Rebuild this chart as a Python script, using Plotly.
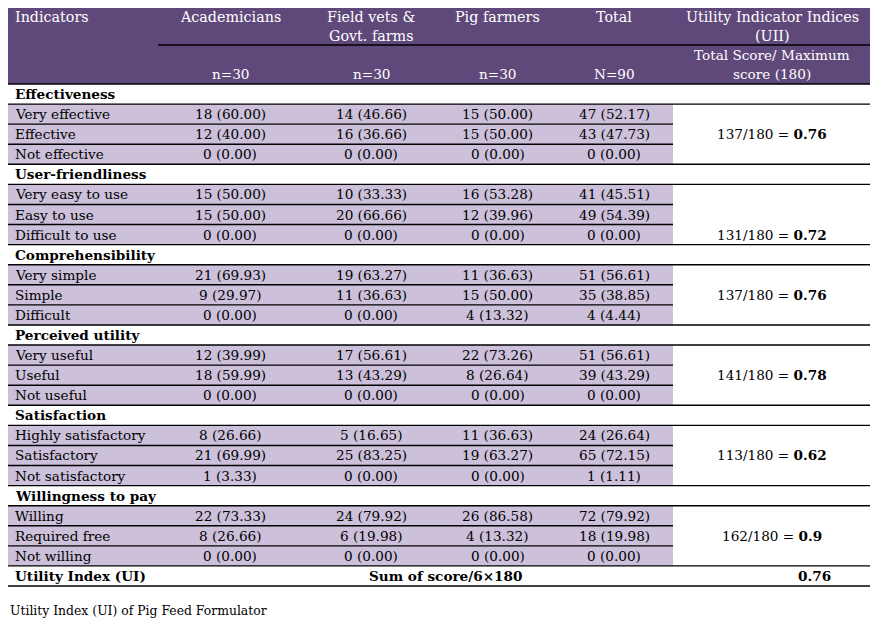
import plotly.graph_objects as go

# Table content
groups = ["Effectiveness", "User-friendliness", "Comprehensibility",
          "Perceived utility", "Satisfaction", "Willingness to pay"]
options = [
    ["Very effective", "Effective", "Not effective"],
    ["Very easy to use", "Easy to use", "Difficult to use"],
    ["Very simple", "Simple", "Difficult"],
    ["Very useful", "Useful", "Not useful"],
    ["Highly satisfactory", "Satisfactory", "Not satisfactory"],
    ["Willing", "Required free", "Not willing"],
]
academicians_n = [18, 12, 0, 15, 15, 0, 21, 9, 0, 12, 18, 0, 8, 21, 1, 22, 8, 0]
academicians_pct = [60.00, 40.00, 0.00, 50.00, 50.00, 0.00, 69.93, 29.97, 0.00,
                    39.99, 59.99, 0.00, 26.66, 69.99, 3.33, 73.33, 26.66, 0.00]
fieldvets_n = [14, 16, 0, 10, 20, 0, 19, 11, 0, 17, 13, 0, 5, 25, 0, 24, 6, 0]
fieldvets_pct = [46.66, 36.66, 0.00, 33.33, 66.66, 0.00, 63.27, 36.63, 0.00,
                 56.61, 43.29, 0.00, 16.65, 83.25, 0.00, 79.92, 19.98, 0.00]
farmers_n = [15, 15, 0, 16, 12, 0, 11, 15, 4, 22, 8, 0, 11, 19, 0, 26, 4, 0]
farmers_pct = [50.00, 50.00, 0.00, 53.28, 39.96, 0.00, 36.63, 50.00, 13.32,
               73.26, 26.64, 0.00, 36.63, 63.27, 0.00, 86.58, 13.32, 0.00]
total_n = [47, 43, 0, 41, 49, 0, 51, 35, 4, 51, 39, 0, 24, 65, 1, 72, 18, 0]
total_pct = [52.17, 47.73, 0.00, 45.51, 54.39, 0.00, 56.61, 38.85, 4.44,
             56.61, 43.29, 0.00, 26.64, 72.15, 1.11, 79.92, 19.98, 0.00]
uii_score = [137, 131, 137, 141, 113, 162]
uii_index = ["0.76", "0.72", "0.76", "0.78", "0.62", "0.9"]
max_score = 180

header_cols = [["Academicians"], ["Field vets &", "Govt. farms"], ["Pig farmers"],
               ["Total"], ["Utility Indicator Indices", "(UII)"]]
header_n = ["n=30", "n=30", "n=30", "N=90", ["Total Score/ Maximum", "score (180)"]]
ui_label = "Utility Index (UI)"
ui_formula = "Sum of score/6×180"
ui_value = "0.76"
caption = "Utility Index (UI) of Pig Feed Formulator"

# Layout (pixel-like coordinates)
DARK = "#5f497a"
LIGHT = "#ccc0da"
FONT = "DejaVu Serif"
FS = 13.6
HFS = 14.3
edges = [6, 158, 302, 440, 555, 673, 871]
centers = [(edges[i] + edges[i + 1]) / 2 for i in range(1, 6)]
top, mid, hbot = 6, 45, 84
row_h = 20.08
left_x = 13
uii_valign = ["middle", "bottom", "middle", "middle", "middle", "middle"]
PAGE_OFF = 8  # the page body margin

fig = go.Figure()
shapes = []
ann = []


def hline(y, x0, x1, w=1.4):
    shapes.append(dict(type="line", x0=x0, x1=x1, y0=y, y1=y, xref="x", yref="y",
                       line=dict(color="black", width=w)))


def text(x, y, s, anchor="center", color="black", size=FS):
    ann.append(dict(x=x, y=y, text=s, showarrow=False, xref="x", yref="y",
                    xanchor=anchor, yanchor="middle",
                    font=dict(family=FONT, size=size, color=color)))


# header block
shapes.append(dict(type="rect", x0=edges[0], x1=edges[-1], y0=top, y1=hbot,
                   fillcolor=DARK, line_width=0, layer="below"))
hline(top, edges[0], edges[-1])
hline(mid, edges[1], edges[-1])
hline(hbot, edges[0], edges[-1])
text(left_x, 17, "Indicators", "left", "white", HFS)
for cx, lines in zip(centers, header_cols):
    for k, s in enumerate(lines):
        text(cx, 17 + 19 * k, s, color="white", size=HFS)
for cx, s in zip(centers, header_n):
    if isinstance(s, list):
        for k, t in enumerate(s):
            text(cx, 55 + 19 * k, t, color="white")
    else:
        text(cx, 74, s, color="white")

# body
y = hbot
i = 0
for g, name in enumerate(groups):
    text(left_x, y + row_h / 2, "<b>" + name + "</b>", "left")
    y += row_h
    hline(y, edges[0], edges[-1])
    g_top = y
    for j, opt in enumerate(options[g]):
        shapes.append(dict(type="rect", x0=edges[0], x1=edges[5], y0=y, y1=y + row_h,
                           fillcolor=LIGHT, line_width=0, layer="below"))
        cy = y + row_h / 2
        text(left_x, cy, opt, "left")
        cells = [f"{academicians_n[i]} ({academicians_pct[i]:.2f})",
                 f"{fieldvets_n[i]} ({fieldvets_pct[i]:.2f})",
                 f"{farmers_n[i]} ({farmers_pct[i]:.2f})",
                 f"{total_n[i]} ({total_pct[i]:.2f})"]
        for cx, s in zip(centers[:4], cells):
            text(cx, cy, s)
        y += row_h
        i += 1
        if j < len(options[g]) - 1:
            hline(y, edges[0], edges[5])
    hline(y, edges[0], edges[-1])
    uy = (g_top + y) / 2 if uii_valign[g] == "middle" else y - row_h / 2
    text(centers[4], uy, f"{uii_score[g]}/{max_score} = <b>{uii_index[g]}</b>")

# final row
text(left_x, y + row_h / 2, "<b>" + ui_label + "</b>", "left")
text((edges[1] + edges[5]) / 2 + 30, y + row_h / 2, "<b>" + ui_formula + "</b>")
text(centers[4] + 42, y + row_h / 2, "<b>" + ui_value + "</b>")
y += row_h
hline(y, edges[0], edges[-1])

text(8, y + 24, caption, "left", size=12.4)

fig.update_layout(
    width=878, height=637, margin=dict(l=0, r=0, t=0, b=0),
    plot_bgcolor="white", paper_bgcolor="white",
    xaxis=dict(range=[PAGE_OFF, 878 + PAGE_OFF], visible=False, fixedrange=True),
    yaxis=dict(range=[637 + PAGE_OFF, PAGE_OFF], visible=False, fixedrange=True),
    shapes=shapes, annotations=ann, showlegend=False,
)
fig.write_html("out.html")
